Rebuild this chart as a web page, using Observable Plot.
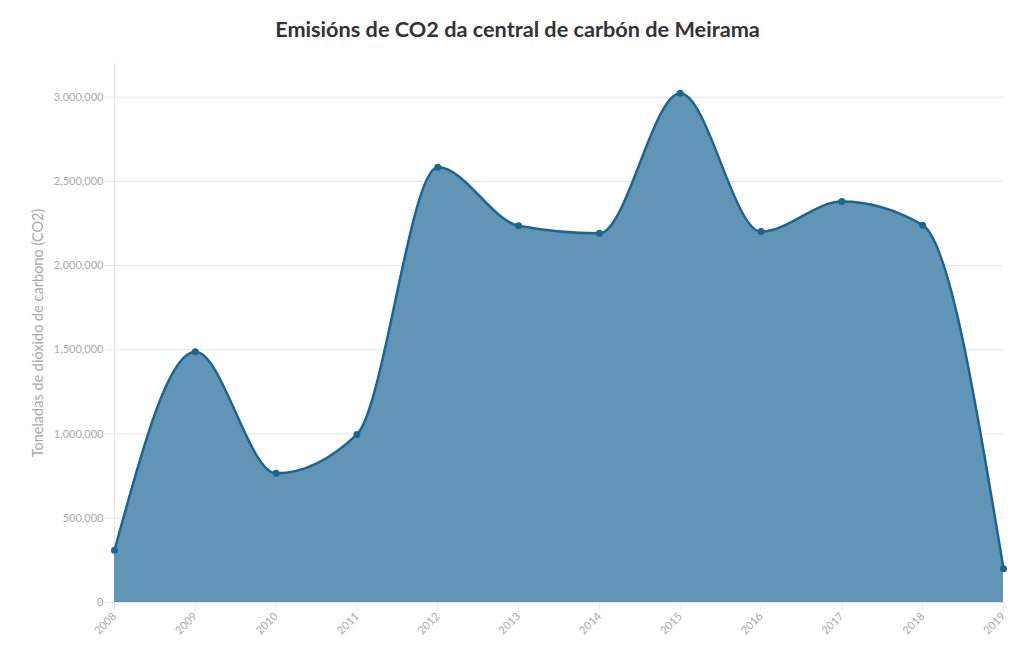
<!DOCTYPE html>
<html><head><meta charset="utf-8">
<script src="https://cdn.jsdelivr.net/npm/d3@7"></script>
<script src="https://cdn.jsdelivr.net/npm/@observablehq/plot@0.6"></script>
<style>
body{margin:0;background:#fff;font-family:Lato,sans-serif;}
#title{height:50px;line-height:58px;text-align:center;font-size:21.7px;font-weight:700;color:#333;white-space:nowrap;}
#chart svg{display:block;}
</style></head><body>
<div id="title">Emisións de CO2 da central de carbón de Meirama</div>
<div id="chart"></div>
<script>
const years = [2008, 2009, 2010, 2011, 2012, 2013, 2014, 2015, 2016, 2017, 2018, 2019];
const emissions = [310000, 1488000, 767000, 998000, 2584000, 2237000, 2192000, 3024000, 2202000, 2380000, 2240000, 200000];
const yTicks = [0, 500000, 1000000, 1500000, 2000000, 2500000, 3000000];
const yLabel = "Toneladas de dióxido de carbono (CO2)";

const data = years.map((year, i) => ({year, value: emissions[i]}));
const lineColor = "#1d6591";
const fillColor = "#6195b6";

const chart = Plot.plot({
  width: 1035,
  height: 603,
  marginTop: 13,
  marginBottom: 51,
  marginLeft: 114,
  marginRight: 32,
  style: {fontFamily: "Lato, sans-serif", fontSize: "11px", background: "#fff"},
  x: {domain: [2008, 2019]},
  y: {domain: [0, 3200000]},
  marks: [
    Plot.gridY(yTicks, {stroke: "#e6e6e6", strokeOpacity: 1}),
    Plot.ruleX([2008], {stroke: "#e6e6e6"}),
    Plot.areaY(data, {x: "year", y: "value", curve: "monotone-x", fill: fillColor}),
    Plot.lineY(data, {x: "year", y: "value", curve: "monotone-x", stroke: lineColor, strokeWidth: 2.5}),
    Plot.dot(data, {x: "year", y: "value", r: 3.5, fill: lineColor}),
    Plot.axisY(yTicks, {tickFormat: d3.format(","), tickSize: 9, tickPadding: 2, stroke: "#e6e6e6", fill: "#aaa", label: null}),
    Plot.axisX(years, {tickFormat: d => String(d), tickRotate: -45, tickSize: 9, tickPadding: 3, stroke: "#e6e6e6", fill: "#aaa", label: null}),
    Plot.text([yLabel], {frameAnchor: "left", textAnchor: "middle", rotate: -90, dx: -76, fontSize: 14.5, fill: "#aaa"})
  ]
});
document.getElementById("chart").appendChild(chart);
</script>
</body></html>
